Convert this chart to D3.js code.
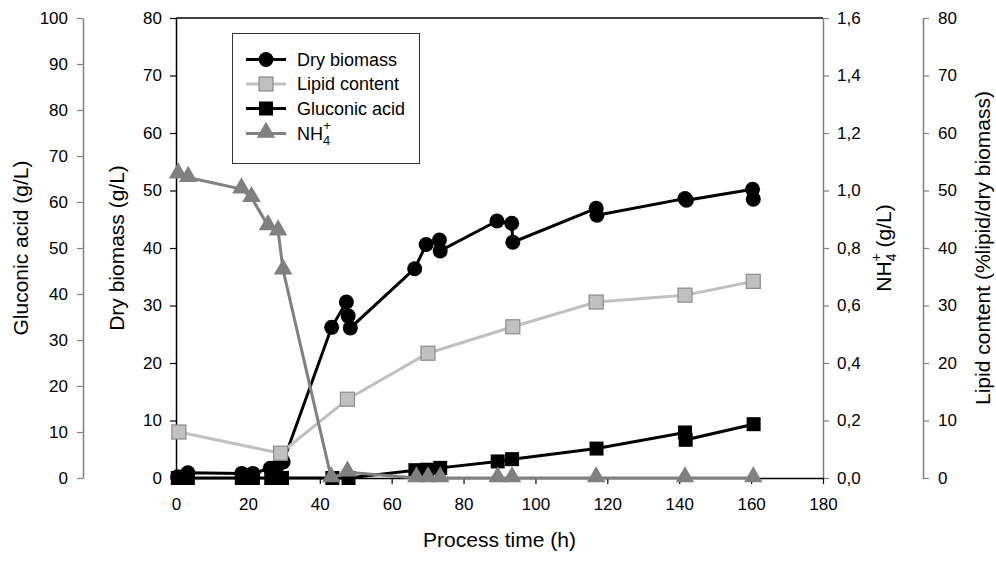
<!DOCTYPE html>
<html>
<head>
<meta charset="utf-8">
<script src="https://cdn.jsdelivr.net/npm/d3@7"></script>
<style>
  body { margin: 0; background: #fff; }
  svg { font-family: "Liberation Sans", Arial, sans-serif; }
</style>
</head>
<body>
<svg id="chart" width="996" height="561"></svg>
<script>
// Dry biomass (g/L)
const bioTime = [0.5, 3.3, 18.3, 21.4, 26.2, 28, 29.8, 43.3, 47.4, 47.9, 48.5, 66.4, 69.6, 73.3, 73.5, 89.3, 93.4, 93.7, 116.9, 117.1, 141.6, 142, 160.4, 160.6];
const bioValues = [0.2, 0.9, 0.8, 0.8, 1.7, 1.9, 2.8, 26.2, 30.6, 28.2, 26.1, 36.4, 40.6, 41.4, 39.5, 44.7, 44.3, 41.0, 46.9, 45.7, 48.6, 48.3, 50.2, 48.5];

// Lipid content (%lipid/dry biomass)
const lipidTime = [0.8, 29.1, 47.7, 70.1, 93.7, 116.9, 141.6, 160.6];
const lipidValues = [8.0, 4.3, 13.7, 21.7, 26.3, 30.6, 31.8, 34.2];

// Gluconic acid (g/L)
const gluTime = [0.5, 3.3, 18.3, 21.4, 26.5, 29.5, 43.5, 48, 66.6, 69.8, 73.5, 89.5, 93.5, 117, 141.6, 141.8, 160.7];
const gluValues = [0, 0, 0, 0, 0, 0, 0, 0, 1.7, 1.8, 2.2, 3.6, 4.1, 6.4, 9.9, 8.3, 11.7];

// NH4+ (g/L)
const nhTime = [0.6, 3.4, 18.2, 21, 25.6, 28.4, 29.8, 43.2, 47.7, 66.9, 70.1, 73.5, 89.5, 93.5, 116.9, 141.6, 160.6];
const nhValues = [1.057, 1.045, 1.005, 0.975, 0.877, 0.859, 0.723, 0, 0.02, 0, 0, 0, 0, 0, 0, 0, 0];

const xTicks = [0, 20, 40, 60, 80, 100, 120, 140, 160, 180];
const legendLabels = ["Dry biomass", "Lipid content", "Gluconic acid", "NH"];

const svg = d3.select("#chart");
const plotLeft = 176, plotRight = 823, plotTop = 18, plotBottom = 478;
const axisGray = "#808080";

const x = d3.scaleLinear().domain([0, 180]).range([plotLeft, plotRight]);
const yBio = d3.scaleLinear().domain([0, 80]).range([plotBottom, plotTop]);
const yGlu = d3.scaleLinear().domain([0, 100]).range([plotBottom, plotTop]);
const yNh = d3.scaleLinear().domain([0, 1.6]).range([plotBottom, plotTop]);
const yLip = d3.scaleLinear().domain([0, 80]).range([plotBottom, plotTop]);

function styleAxis(g, color) {
    g.selectAll("path").attr("stroke", color).attr("stroke-width", 1.5);
    g.selectAll("line").attr("stroke", color).attr("stroke-width", 1.2);
    g.selectAll("text").attr("fill", "#000").attr("font-size", "17px")
        .attr("font-family", "Liberation Sans, Arial, sans-serif");
}

// top frame line
svg.append("line")
    .attr("x1", plotLeft).attr("x2", plotRight).attr("y1", plotTop).attr("y2", plotTop)
    .attr("stroke", "#000").attr("stroke-width", 1.5);

// Gluconic acid axis (outer left)
svg.append("g").attr("transform", "translate(83,0)")
    .call(d3.axisLeft(yGlu).tickValues(d3.range(0, 101, 10)).tickSize(6).tickSizeOuter(0).tickPadding(9))
    .call(g => styleAxis(g, axisGray));

// Dry biomass axis
svg.append("g").attr("transform", `translate(${plotLeft},0)`)
    .call(d3.axisLeft(yBio).tickValues(d3.range(0, 81, 10)).tickSize(6).tickSizeOuter(0).tickPadding(8))
    .call(g => styleAxis(g, "#000"));

// NH4+ axis
const commaFmt = d => d3.format(".1f")(d).replace(".", ",");
svg.append("g").attr("transform", `translate(${plotRight},0)`)
    .call(d3.axisRight(yNh).tickValues(d3.range(0, 1.61, 0.2)).tickFormat(commaFmt).tickSize(6).tickSizeOuter(0).tickPadding(8))
    .call(g => styleAxis(g, axisGray));

// Lipid content axis
svg.append("g").attr("transform", "translate(923,0)")
    .call(d3.axisRight(yLip).tickValues(d3.range(0, 81, 10)).tickSize(6).tickSizeOuter(0).tickPadding(9))
    .call(g => styleAxis(g, axisGray));

// X axis
svg.append("g").attr("transform", `translate(0,${plotBottom})`)
    .call(d3.axisBottom(x).tickValues(xTicks).tickSize(6).tickSizeOuter(0).tickPadding(14))
    .call(g => styleAxis(g, "#000"));

// Axis titles
svg.append("text")
    .attr("x", (plotLeft + plotRight) / 2).attr("y", 547)
    .attr("text-anchor", "middle").attr("font-size", "21px")
    .text("Process time (h)");

function yTitle(xPos, label) {
    return svg.append("text")
        .attr("transform", `translate(${xPos},248) rotate(-90)`)
        .attr("text-anchor", "middle").attr("font-size", "21px")
        .text(label);
}
yTitle(28, "Gluconic acid (g/L)");
yTitle(124, "Dry biomass (g/L)");
yTitle(990, "Lipid content (%lipid/dry biomass)");
const nhTitle = yTitle(891, "NH");
nhTitle.append("tspan").attr("font-size", "14px").attr("dy", "5").text("4");
nhTitle.append("tspan").attr("font-size", "14px").attr("dx", "-8").attr("dy", "-15").text("+");
nhTitle.append("tspan").attr("dy", "10").text(" (g/L)");

// Series
const line = d3.line();
const bioPts = bioTime.map((t, i) => [x(t), yBio(bioValues[i])]);
const lipPts = lipidTime.map((t, i) => [x(t), yLip(lipidValues[i])]);
const gluPts = gluTime.map((t, i) => [x(t), yGlu(gluValues[i])]);
const nhPts = nhTime.map((t, i) => [x(t), yNh(nhValues[i])]);

const tri = d3.symbol().type(d3.symbolTriangle).size(150);

// dry biomass
svg.append("path").attr("d", line(bioPts)).attr("fill", "none").attr("stroke", "#000").attr("stroke-width", 3);
svg.selectAll(".bio").data(bioPts).enter().append("circle")
    .attr("cx", d => d[0]).attr("cy", d => d[1]).attr("r", 7.5).attr("fill", "#000");

// lipid content
svg.append("path").attr("d", line(lipPts)).attr("fill", "none").attr("stroke", "#c0c0c0").attr("stroke-width", 3);
svg.selectAll(".lip").data(lipPts).enter().append("rect")
    .attr("x", d => d[0] - 7).attr("y", d => d[1] - 7).attr("width", 14).attr("height", 14)
    .attr("fill", "#c0c0c0").attr("stroke", "#8a8a8a").attr("stroke-width", 1.2);

// gluconic acid
svg.append("path").attr("d", line(gluPts)).attr("fill", "none").attr("stroke", "#000").attr("stroke-width", 3);
svg.selectAll(".glu").data(gluPts).enter().append("rect")
    .attr("x", d => d[0] - 7).attr("y", d => d[1] - 7).attr("width", 14).attr("height", 14)
    .attr("fill", "#000");

// NH4+
svg.append("path").attr("d", line(nhPts)).attr("fill", "none").attr("stroke", "#808080").attr("stroke-width", 3);
svg.selectAll(".nh").data(nhPts).enter().append("path")
    .attr("d", tri).attr("transform", d => `translate(${d[0]},${d[1] - 1})`)
    .attr("fill", "#808080");

// Legend
const lg = svg.append("g");
lg.append("rect").attr("x", 232.5).attr("y", 33.5).attr("width", 187).attr("height", 130)
    .attr("fill", "#fff").attr("stroke", "#333").attr("stroke-width", 1);
const rowY = [59.5, 84, 108.5, 133.5];
const legStyles = [
    {stroke: "#000", marker: "circle", fill: "#000"},
    {stroke: "#c0c0c0", marker: "square", fill: "#c0c0c0", edge: "#8a8a8a"},
    {stroke: "#000", marker: "square", fill: "#000"},
    {stroke: "#808080", marker: "triangle", fill: "#808080"}
];
legendLabels.forEach((label, i) => {
    const y = rowY[i], s = legStyles[i];
    lg.append("line").attr("x1", 246).attr("x2", 286).attr("y1", y).attr("y2", y)
        .attr("stroke", s.stroke).attr("stroke-width", 3);
    if (s.marker === "circle") {
        lg.append("circle").attr("cx", 266).attr("cy", y).attr("r", 7.5).attr("fill", s.fill);
    } else if (s.marker === "square") {
        lg.append("rect").attr("x", 259).attr("y", y - 7).attr("width", 14).attr("height", 14)
            .attr("fill", s.fill).attr("stroke", s.edge || "none").attr("stroke-width", 1.2);
    } else {
        lg.append("path").attr("d", tri).attr("transform", `translate(266,${y - 1})`).attr("fill", s.fill);
    }
    const t = lg.append("text").attr("x", 297).attr("y", y + 6).attr("font-size", "18px").text(label);
    if (i === 3) {
        t.append("tspan").attr("font-size", "13px").attr("dy", "5").text("4");
        t.append("tspan").attr("font-size", "13px").attr("dx", "-7").attr("dy", "-15").text("+");
    }
});
</script>
</body>
</html>
